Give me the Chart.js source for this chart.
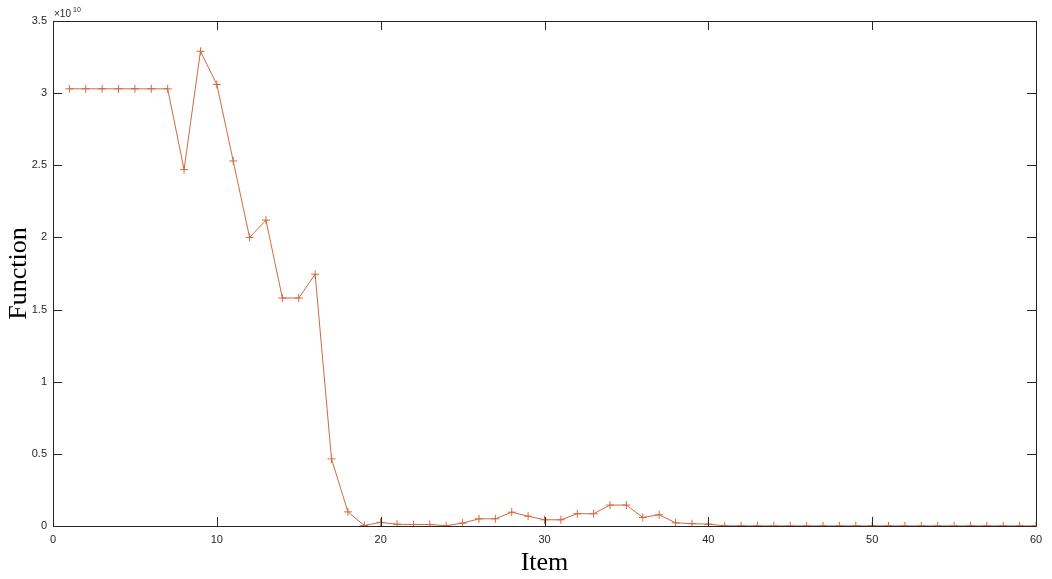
<!DOCTYPE html>
<html>
<head>
<meta charset="utf-8">
<script src="https://cdn.jsdelivr.net/npm/chart.js@4.4.1/dist/chart.umd.min.js"></script>
<style>
  html, body { margin: 0; padding: 0; background: #fff; }
  #wrap { width: 1052px; height: 579px; }
</style>
</head>
<body>
<div id="wrap"><canvas id="funcChart" width="1052" height="579"></canvas></div>
<script>
// item numbers along the x axis
const items = [1, 2, 3, 4, 5, 6, 7, 8, 9, 10,
    11, 12, 13, 14, 15, 16, 17, 18, 19, 20,
    21, 22, 23, 24, 25, 26, 27, 28, 29, 30,
    31, 32, 33, 34, 35, 36, 37, 38, 39, 40,
    41, 42, 43, 44, 45, 46, 47, 48, 49, 50,
    51, 52, 53, 54, 55, 56, 57, 58, 59, 60];

// function value per item
const functionValues = [3.03e10, 3.03e10, 3.03e10, 3.03e10, 3.03e10, 3.03e10, 3.03e10, 2.47e10, 3.29e10, 3.06e10,
    2.53e10, 2.00e10, 2.12e10, 1.58e10, 1.58e10, 1.745e10, 0.465e10, 0.098e10, 0.004e10, 0.025e10,
    0.012e10, 0.010e10, 0.010e10, 0.002e10, 0.020e10, 0.050e10, 0.050e10, 0.096e10, 0.068e10, 0.043e10,
    0.043e10, 0.085e10, 0.085e10, 0.145e10, 0.145e10, 0.059e10, 0.078e10, 0.022e10, 0.016e10, 0.013e10,
    0.001e10, 0.001e10, 0.001e10, 0.001e10, 0.001e10, 0.001e10, 0.001e10, 0.001e10, 0.001e10, 0.001e10,
    0.001e10, 0.001e10, 0.001e10, 0.001e10, 0.001e10, 0.001e10, 0.001e10, 0.001e10, 0.001e10, 0.001e10];

const xTicks = [0, 10, 20, 30, 40, 50, 60];
const yTicks = [0, 0.5e10, 1e10, 1.5e10, 2e10, 2.5e10, 3e10, 3.5e10];

const axisColor = '#262626';
const lineColor = '#D0693F';

// draws the box, inward ticks on all four sides and the x10^10 exponent
const boxPlugin = {
    id: 'matlabBox',
    afterDraw(chart) {
        const ctx = chart.ctx;
        const a = chart.chartArea;
        const xs = chart.scales.x;
        const ys = chart.scales.y;
        const len = 9;
        ctx.save();
        ctx.strokeStyle = axisColor;
        ctx.lineWidth = 1;
        ctx.beginPath();
        ctx.rect(Math.round(a.left) + 0.5, Math.round(a.top) + 0.5,
            Math.round(a.right - a.left), Math.round(a.bottom - a.top));
        xTicks.forEach(function (v) {
            const px = Math.round(xs.getPixelForValue(v)) + 0.5;
            ctx.moveTo(px, a.bottom); ctx.lineTo(px, a.bottom - len);
            ctx.moveTo(px, a.top); ctx.lineTo(px, a.top + len);
        });
        yTicks.forEach(function (v) {
            const py = Math.round(ys.getPixelForValue(v)) + 0.5;
            ctx.moveTo(a.left, py); ctx.lineTo(a.left + len, py);
            ctx.moveTo(a.right, py); ctx.lineTo(a.right - len, py);
        });
        ctx.stroke();

        ctx.fillStyle = axisColor;
        ctx.textBaseline = 'alphabetic';
        ctx.textAlign = 'left';
        ctx.font = '10px "Liberation Sans", Arial, sans-serif';
        ctx.fillText('\u00d710', a.left + 1, a.top - 4);
        ctx.font = '7px "Liberation Sans", Arial, sans-serif';
        ctx.fillText('10', a.left + 20, a.top - 9);
        ctx.restore();
    }
};

const ctx = document.getElementById('funcChart').getContext('2d');
new Chart(ctx, {
    type: 'line',
    data: {
        labels: items,
        datasets: [{
            label: 'Function',
            data: items.map(function (x, i) { return { x: x, y: functionValues[i] }; }),
            borderColor: lineColor,
            backgroundColor: lineColor,
            borderWidth: 1,
            pointStyle: 'cross',
            pointRadius: 4,
            pointBorderWidth: 1,
            pointBorderColor: lineColor,
            tension: 0,
            fill: false,
        }],
    },
    options: {
        responsive: false,
        maintainAspectRatio: false,
        animation: false,
        layout: { padding: { top: 21, right: 16, left: 0, bottom: 0 } },
        plugins: {
            legend: { display: false },
            tooltip: { enabled: false },
        },
        scales: {
            x: {
                type: 'linear',
                min: 0,
                max: 60,
                afterBuildTicks(scale) {
                    scale.ticks = xTicks.map(function (v) { return { value: v }; });
                },
                afterFit(scale) { scale.height = 53; },
                grid: { display: false, drawTicks: false },
                border: { display: false },
                ticks: {
                    padding: 7,
                    color: axisColor,
                    maxRotation: 0,
                    font: { family: '"Liberation Sans", Arial, sans-serif', size: 11 },
                },
                title: {
                    display: true,
                    text: 'Item',
                    color: '#000',
                    padding: { top: 0, bottom: 0 },
                    font: { family: '"Liberation Serif", "Times New Roman", serif', size: 26 },
                },
            },
            y: {
                min: 0,
                max: 3.5e10,
                afterBuildTicks(scale) {
                    scale.ticks = yTicks.map(function (v) { return { value: v }; });
                },
                afterFit(scale) { scale.width = 53; },
                grid: { display: false, drawTicks: false },
                border: { display: false },
                ticks: {
                    padding: 6,
                    color: axisColor,
                    font: { family: '"Liberation Sans", Arial, sans-serif', size: 11 },
                    callback: function (v) { return String(v / 1e10); },
                },
                title: {
                    display: true,
                    text: 'Function',
                    color: '#000',
                    padding: { top: 4, bottom: 0 },
                    font: { family: '"Liberation Serif", "Times New Roman", serif', size: 26 },
                },
            },
        },
    },
    plugins: [boxPlugin],
});
</script>
</body>
</html>
